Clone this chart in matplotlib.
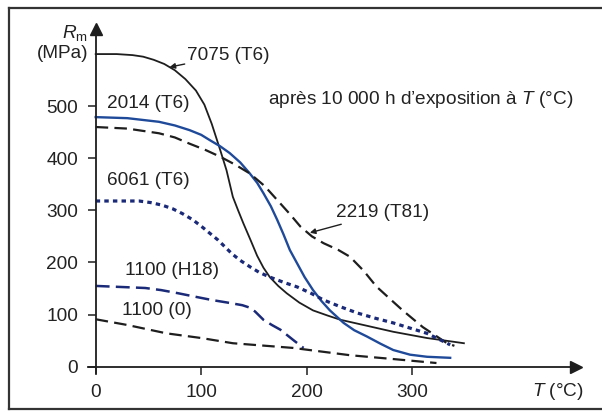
import matplotlib
matplotlib.use("Agg")
import matplotlib.pyplot as plt
from matplotlib.lines import Line2D

plt.rcParams['font.family'] = ['Liberation Sans', 'DejaVu Sans']
plt.rcParams['mathtext.fontset'] = 'custom'
plt.rcParams['mathtext.rm'] = 'Liberation Sans'
plt.rcParams['mathtext.it'] = 'Liberation Sans:italic'
plt.rcParams['lines.scale_dashes'] = False
plt.rcParams['lines.solid_joinstyle'] = 'round'
plt.rcParams['lines.dash_joinstyle'] = 'round'

# Résistance Rm (MPa) après 10 000 h à la température T (°C)
t_7075 = [0, 20, 35, 45, 55, 65, 75, 85, 95, 103, 110, 118, 124, 130, 135, 140, 147, 153,
          159, 165, 173, 181, 193, 206, 220, 232, 256, 282, 314, 349]
r_7075 = [600, 600, 598, 595, 589, 581, 569, 552, 530, 503, 466, 416, 377, 326, 300, 275, 242, 213,
          190, 172, 155, 141, 123, 108, 98, 90, 79, 67, 55, 45]

t_2014 = [0, 30, 60, 75, 89, 100, 108, 118, 127, 137, 146, 153, 159, 166, 172, 178, 184, 191,
          198, 206, 214, 222, 235, 245, 257, 270, 282, 298, 314, 336]
r_2014 = [479, 477, 470, 463, 454, 445, 435, 423, 410, 392, 371, 353, 333, 308, 282, 254, 224, 198,
          172, 147, 126, 108, 84, 70, 58, 44, 32, 23, 19, 17]

t_2219 = [0, 30, 60, 75, 89, 104, 118, 132, 146, 160, 172, 184, 194, 205, 216, 230, 241, 254,
          266, 279, 291, 310, 333, 340]
r_2219 = [460, 457, 448, 440, 428, 416, 403, 388, 371, 347, 320, 293, 269, 250, 237, 224, 211, 184,
          154, 130, 108, 76, 45, 40]

t_6061 = [0, 41, 52, 63, 73, 82, 92, 101, 116, 129, 137, 146, 155, 165, 178, 191, 204, 216,
          232, 248, 265, 282, 298, 314, 326, 336]
r_6061 = [318, 318, 315, 310, 303, 294, 282, 268, 243, 217, 204, 192, 181, 172, 162, 153, 141, 128,
          115, 103, 93, 84, 74, 64, 52, 42]

t_h18 = [0, 47, 62, 78, 95, 110, 125, 139, 145, 151, 159, 167, 175, 188, 197]
r_h18 = [155, 151, 147, 141, 134, 128, 123, 118, 114, 106, 90, 80, 71, 50, 36]

t_o = [0, 30, 67, 100, 130, 187, 241, 280, 323]
r_o = [91, 80, 64, 55, 45, 36, 22, 15, 7]

x_ticks = [0, 100, 200, 300]
y_ticks = [0, 100, 200, 300, 400, 500]

noir = '#1e1e1e'
bleu = '#1f4a9a'
marine = '#1a2a78'
texte = '#222222'
fs = 13.7

fig = plt.figure(figsize=(6.02, 4.12), dpi=100)
ax = fig.add_axes([0, 0, 1, 1])
ax.set_xlim(-90.7, 479.9)
ax.set_ylim(-87, 703.8)
ax.patch.set_alpha(0)

ax.plot(t_7075, r_7075, color=noir, lw=1.3)
ax.plot(t_2014, r_2014, color=bleu, lw=1.7)
ax.plot(t_2219, r_2219, color=noir, lw=1.6, dashes=(9, 4.5))
ax.plot(t_6061, r_6061, color=marine, lw=2.3, dashes=(3.2, 3))
ax.plot(t_h18, r_h18, color=marine, lw=1.8, dashes=(10, 4.5))
ax.plot(t_o, r_o, color=noir, lw=1.6, dashes=(9, 4.5))

# axes en croix avec flèches
for s in ['top', 'right']:
    ax.spines[s].set_visible(False)
ax.spines['left'].set_position(('data', 0))
ax.spines['bottom'].set_position(('data', 0))
ax.spines['left'].set_bounds(-12, 640)
ax.spines['bottom'].set_bounds(-7, 450)
for s in ['left', 'bottom']:
    ax.spines[s].set_linewidth(1.3)
    ax.spines[s].set_color(noir)
ax.plot(455, 0, '>', color=noir, ms=9, clip_on=False)
ax.plot(0, 648, '^', color=noir, ms=9, clip_on=False)

ax.set_xticks(x_ticks)
ax.set_yticks(y_ticks)
ax.tick_params(direction='out', length=5.5, width=1.1, color=noir,
               labelsize=fs, labelcolor=texte, pad=7)

ax.text(-7, 640, r'$R_\mathrm{m}$', fontsize=fs, color=texte, ha='right', va='center')
ax.text(-7, 602, '(MPa)', fontsize=fs, color=texte, ha='right', va='center')
ax.text(414, -48, r'$T$ (°C)', fontsize=fs, color=texte, ha='left', va='center')
ax.text(163, 512, r'après 10 000 h d’exposition à $T$ (°C)', fontsize=fs,
        color=texte, ha='left', va='center')

ax.text(11, 506, '2014 (T6)', fontsize=fs, color=texte, va='center')
ax.text(11, 358, '6061 (T6)', fontsize=fs, color=texte, va='center')
ax.text(28, 184, '1100 (H18)', fontsize=fs, color=texte, va='center')
ax.text(25, 107, '1100 (0)', fontsize=fs, color=texte, va='center')
ax.annotate('7075 (T6)', xy=(70, 575), xytext=(87, 598), fontsize=fs, color=texte,
            va='center', arrowprops=dict(arrowstyle='-|>', color=noir, lw=1,
                                         mutation_scale=8, shrinkA=0, shrinkB=0))
ax.annotate('2219 (T81)', xy=(203, 257), xytext=(228, 295), fontsize=fs, color=texte,
            va='center', arrowprops=dict(arrowstyle='-|>', color=noir, lw=1,
                                         mutation_scale=8, shrinkA=0, shrinkB=0))

# cadre de la figure
cadre = dict(color='#333333', lw=1.6, transform=fig.transFigure)
fig.add_artist(Line2D([9 / 602, 9 / 602], [1 - 8 / 412, 1 - 409 / 412], **cadre))
fig.add_artist(Line2D([9 / 602, 1], [1 - 8 / 412, 1 - 8 / 412], **cadre))
fig.add_artist(Line2D([9 / 602, 1], [1 - 409 / 412, 1 - 409 / 412], **cadre))

fig.savefig('out.png', dpi=100)
